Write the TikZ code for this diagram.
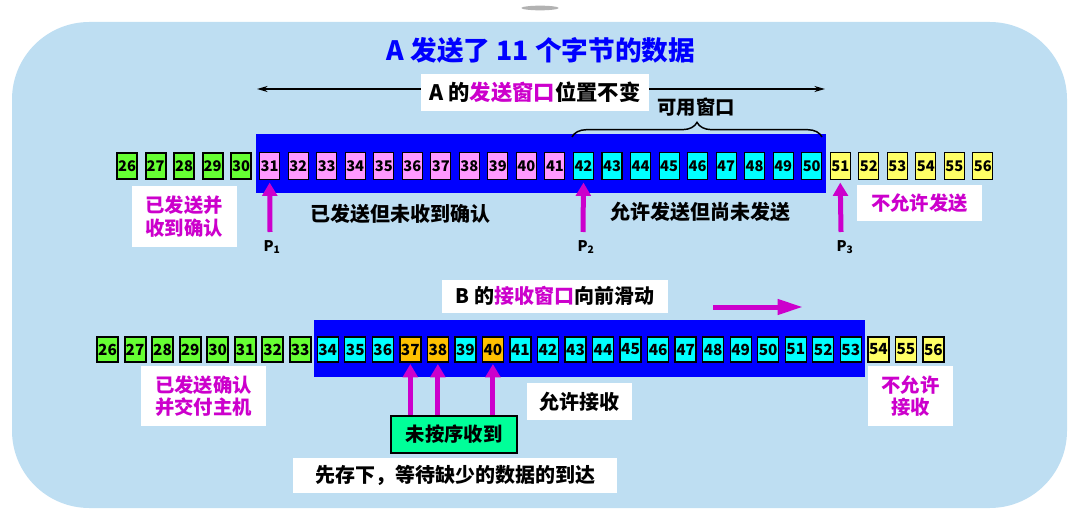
\documentclass[tikz,border=0pt]{standalone}
\usepackage{fontspec}
\setmainfont{Noto Sans CJK SC}
\usetikzlibrary{arrows.meta,decorations.pathreplacing,shapes.geometric}
\definecolor{bgblue}{RGB}{190,222,242}
\definecolor{cmag}{RGB}{204,0,204}
\definecolor{cgreen}{RGB}{102,255,51}
\definecolor{cpink}{RGB}{255,153,255}
\definecolor{ccyan}{RGB}{0,255,255}
\definecolor{cyellow}{RGB}{255,255,102}
\definecolor{corange}{RGB}{255,192,0}
\definecolor{cmint}{RGB}{0,255,153}
\definecolor{wblue}{RGB}{0,0,255}
\tikzset{
  sbox/.style={draw, line width=0.8pt, minimum width=15pt, minimum height=20pt, inner sep=0pt,
    font=\fontsize{11}{11}\selectfont\bfseries},
  rbox/.style={draw, line width=1pt, minimum width=15.75pt, minimum height=18.75pt, inner sep=0pt,
    font=\fontsize{11.5}{11.5}\selectfont\bfseries},
  thickbox/.style={line width=1.5pt},
  wbox/.style={fill=white, inner sep=0pt, align=center,
    font=\fontsize{14.5}{17}\selectfont\bfseries},
  plain/.style={inner sep=0pt, font=\fontsize{15}{17}\selectfont\bfseries},
  window/.style={fill=wblue, inner sep=0pt},
  uparrow/.style={cmag, line width=3.75pt, -{Triangle[width=11pt,length=10pt]}},
  plab/.style={inner sep=0pt, font=\fontsize{11}{12}\selectfont\bfseries},
}
\begin{document}
\begin{tikzpicture}[x=0.75pt,y=-0.75pt]
\useasboundingbox (0,0) rectangle (1069,524);
% background
\fill[bgblue, rounded corners=58pt] (12,22) rectangle (1067,508);
\node (blob) [ellipse, fill=gray!75, minimum width=28pt, minimum height=3.5pt, inner sep=0pt, opacity=0.8] at (540,8) {};

% title
\node (title) [inner sep=0pt, text=wblue, font=\fontsize{20}{22}\selectfont\bfseries] at (541,50) {A 发送了 11 个字节的数据};

% top arrow line
\coordinate (la) at (257,89);
\coordinate (lb) at (825,89);
\draw[line width=1.1pt, {Stealth[length=8pt,width=4.5pt]}-{Stealth[length=8pt,width=4.5pt]}] (la) -- (lb);
\node (alab) [wbox, minimum width=171pt, minimum height=27.75pt, font=\fontsize{16}{18}\selectfont\bfseries] at (535,92.5) {A 的\textcolor{cmag}{发送窗口}位置不变};

% sender window
\node (winA) [window, minimum width=427.5pt, minimum height=44.25pt] at (541,163.5) {};
\foreach \n in {26,...,30} \node (s\n) [sbox, thickbox, fill=cgreen] at ({127+(\n-26)*28.53},166) {\n};
\foreach \n in {31,...,41} \node (s\n) [sbox, fill=cpink] at ({127+(\n-26)*28.53},166) {\n};
\foreach \n in {42,...,50} \node (s\n) [sbox, fill=ccyan] at ({127+(\n-26)*28.53},166) {\n};
\foreach \n in {51,...,56} \node (s\n) [sbox, fill=cyellow] at ({127+(\n-26)*28.53},166) {\n};

% brace
\coordinate (ba) at (572,137);
\coordinate (bb) at (822,137);
\draw[line width=1.1pt, decorate, decoration={brace, amplitude=11pt}] (ba) -- (bb);
\node (avail) [plain, font=\fontsize{14.5}{16}\selectfont\bfseries] at (696,107) {可用窗口};

% labels row 1
\node (l1) [wbox, text=cmag, minimum width=78.75pt, minimum height=45.75pt] at (184,216.5) {已发送并\\收到确认};
\node (l2) [plain] at (400,214) {已发送但未收到确认};
\node (l3) [plain] at (700,212) {允许发送但尚未发送};
\node (l4) [wbox, text=cmag, minimum width=93.75pt, minimum height=27pt] at (919.5,203) {不允许发送};

% pointers
\coordinate (p1b) at (270,232);
\coordinate (p2b) at (583,232);
\coordinate (p3b) at (841,232);
\draw[uparrow] (p1b) -- ([yshift=-2pt]s31.south);
\draw[uparrow] (p2b) -- ([yshift=-2pt]s42.south);
\draw[uparrow] (p3b) -- ([yshift=-2pt]s51.south);
\node (P1) [plab] at (272,247) {P\textsubscript{1}};
\node (P2) [plab] at (586,247) {P\textsubscript{2}};
\node (P3) [plab] at (845,247) {P\textsubscript{3}};

% receiver
\node (blab) [wbox, minimum width=169.5pt, minimum height=24.75pt, font=\fontsize{15}{17}\selectfont\bfseries] at (555,296) {B 的\textcolor{cmag}{接收窗口}向前滑动};
\coordinate (ma) at (713,307);
\coordinate (mb) at (803,307);
\draw[cmag, line width=3.75pt, -{Triangle[width=11pt,length=19pt]}] (ma) -- (mb);

\node (winB) [window, minimum width=413.25pt, minimum height=42.75pt] at (589.5,348.5) {};
\foreach \n in {26,...,33} \node (r\n) [rbox, thickbox, fill=cgreen] at ({107.5+(\n-26)*27.53},349.5) {\n};
\foreach \n in {34,35,36,39,41,42,43,44,45,46,47,48,49,50,51,52,53} \node (r\n) [rbox, fill=ccyan] at ({107.5+(\n-26)*27.53},349.5) {\n};
\foreach \n in {37,38,40} \node (r\n) [rbox, fill=corange] at ({107.5+(\n-26)*27.53},349.5) {\n};
\foreach \n in {54,55,56} \node (r\n) [rbox, fill=cyellow] at ({107.5+(\n-26)*27.53},349.5) {\n};

% labels row 2
\node (m1) [wbox, text=cmag, minimum width=93.75pt, minimum height=45pt] at (203.5,396) {已发送确认\\并交付主机};
\node (m2) [wbox, minimum width=78.75pt, minimum height=27.75pt, font=\fontsize{15}{17}\selectfont\bfseries] at (579.5,401.5) {允许接收};
\node (m3) [wbox, text=cmag, minimum width=63.75pt, minimum height=45pt] at (910.5,396) {不允许\\接收};
\node (ms) [draw, fill=cmint, line width=0.8pt, inner sep=0pt, minimum width=94.5pt, minimum height=27.75pt, font=\fontsize{14.5}{17}\selectfont\bfseries] at (454,434.5) {未按序收到};
\node (wait) [wbox, minimum width=243pt, minimum height=26.25pt, font=\fontsize{15}{17}\selectfont\bfseries] at (455,475.5) {先存下，等待缺少的数据的到达};

\draw[uparrow] (ms.north -| r37) -- ([yshift=-1pt]r37.south);
\draw[uparrow] (ms.north -| r38) -- ([yshift=-1pt]r38.south);
\draw[uparrow] (ms.north -| r40) -- ([yshift=-1pt]r40.south);
\end{tikzpicture}
\end{document}
